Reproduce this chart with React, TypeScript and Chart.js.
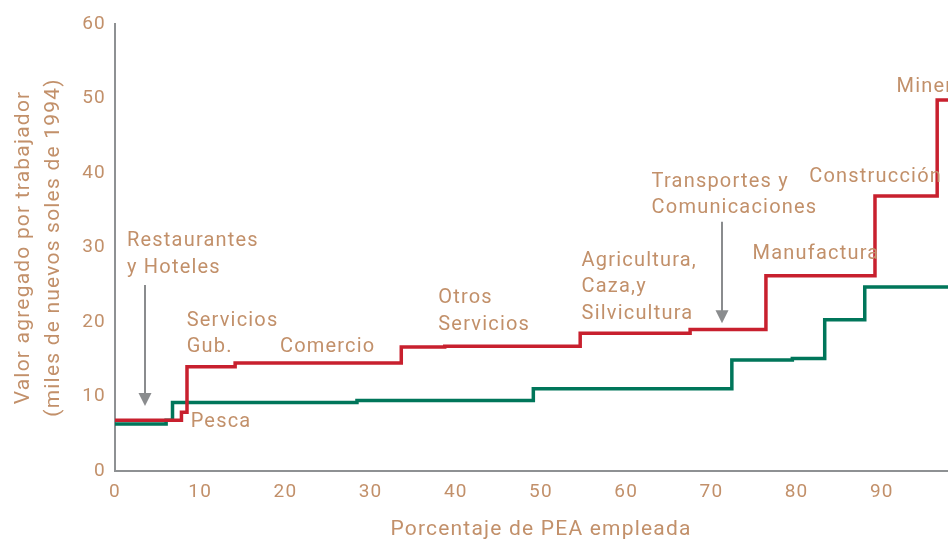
import React, { useEffect, useRef } from "react";
import { Chart, registerables } from "chart.js";

Chart.register(...registerables);

// ---- Data ----
// Cumulative share of employed PEA (%) where each step starts, and value added per worker
const redShare = [0, 7.8, 8.45, 14.1, 33.6, 38.7, 54.6, 67.5, 76.4, 89.2, 96.5, 100];
const redValue = [6.8, 7.9, 14.0, 14.5, 16.65, 16.75, 18.5, 19.0, 26.2, 36.9, 49.8, 49.8];
const greenShare = [0, 6.0, 6.75, 28.4, 49.1, 72.4, 79.5, 83.3, 88.0, 100];
const greenValue = [6.3, 6.8, 9.2, 9.45, 11.05, 14.9, 15.1, 20.3, 24.7, 24.7];

const yTitle = ["Valor agregado por trabajador", "(miles de nuevos soles de 1994)"];
const xTitle = "Porcentaje de PEA empleada";

// Sector annotations, anchored in data units (x = % PEA, y = value)
const sectorLabels = [
  { lines: ["Restaurantes", "y Hoteles"], x: 1.41, y: 31.1 },
  { lines: ["Pesca"], x: 8.88, y: 6.75 },
  { lines: ["Servicios", "Gub."], x: 8.41, y: 20.4 },
  { lines: ["Comercio"], x: 19.36, y: 16.9 },
  { lines: ["Otros", "Servicios"], x: 37.94, y: 23.4 },
  { lines: ["Agricultura,", "Caza,y", "Silvicultura"], x: 54.76, y: 28.42 },
  { lines: ["Transportes y", "Comunicaciones"], x: 62.98, y: 39.06 },
  { lines: ["Manufactura"], x: 74.83, y: 29.3 },
  { lines: ["Construcción"], x: 81.48, y: 39.73 },
  { lines: ["Minería"], x: 91.73, y: 51.81 },
];
const arrowMarks = [
  { x: 3.52, from: 24.97, to: 8.72 },
  { x: 71.26, from: 33.46, to: 19.83 },
];

// ---- Styles ----
const RED = "#c8202e";
const GREEN = "#00765a";
const TAN = "#c2906a";
const AXIS = "#8e9193";
const ARROW = "#8a8c8e";
const FONT = "Roboto, sans-serif";
const SPACING = "1.2px";

const spacingPlugin = {
  id: "letterSpacing",
  beforeUpdate(chart: any) {
    chart.ctx.letterSpacing = SPACING;
  },
  beforeDraw(chart: any) {
    chart.ctx.letterSpacing = SPACING;
  },
};

const notesPlugin = {
  id: "sectorNotes",
  afterDatasetsDraw(chart: any) {
    const { ctx, scales } = chart;
    const xs = scales.x;
    const ys = scales.y;
    ctx.save();
    ctx.letterSpacing = SPACING;
    ctx.font = `20px ${FONT}`;
    ctx.fillStyle = TAN;
    ctx.textAlign = "left";
    ctx.textBaseline = "middle";
    for (const l of sectorLabels) {
      const px = xs.getPixelForValue(l.x);
      const py = ys.getPixelForValue(l.y) + 1.5;
      l.lines.forEach((t, i) => ctx.fillText(t, px, py + i * 26.7));
    }
    ctx.strokeStyle = ARROW;
    ctx.fillStyle = ARROW;
    ctx.lineWidth = 2;
    for (const a of arrowMarks) {
      const px = Math.round(xs.getPixelForValue(a.x));
      const y1 = ys.getPixelForValue(a.from);
      const y2 = ys.getPixelForValue(a.to);
      ctx.beginPath();
      ctx.moveTo(px, y1);
      ctx.lineTo(px, y2 - 12);
      ctx.stroke();
      ctx.beginPath();
      ctx.moveTo(px - 6.5, y2 - 13);
      ctx.lineTo(px + 6.5, y2 - 13);
      ctx.lineTo(px, y2);
      ctx.closePath();
      ctx.fill();
    }
    ctx.restore();
  },
};

export default function App() {
  const ref = useRef<HTMLCanvasElement | null>(null);

  useEffect(() => {
    if (!ref.current) return;
    const toPoints = (xs: number[], ys: number[]) => xs.map((x, i) => ({ x, y: ys[i] }));
    const chart = new Chart(ref.current, {
      type: "line",
      data: {
        datasets: [
          {
            label: "red",
            data: toPoints(redShare, redValue),
            borderColor: RED,
            borderWidth: 3.5,
            stepped: "before",
            pointRadius: 0,
            fill: false,
            borderJoinStyle: "miter",
            borderCapStyle: "butt",
          },
          {
            label: "green",
            data: toPoints(greenShare, greenValue),
            borderColor: GREEN,
            borderWidth: 3.5,
            stepped: "before",
            pointRadius: 0,
            fill: false,
            borderJoinStyle: "miter",
            borderCapStyle: "butt",
          },
        ],
      },
      options: {
        animation: false,
        responsive: false,
        layout: { padding: { left: 0, right: 43, top: 24, bottom: 0 } },
        plugins: {
          legend: { display: false },
          tooltip: { enabled: false },
        },
        scales: {
          x: {
            type: "linear",
            min: 0,
            max: 100,
            grid: { display: false, drawTicks: false },
            border: { display: true, color: AXIS, width: 2 },
            ticks: {
              stepSize: 10,
              padding: 10,
              color: TAN,
              font: { family: FONT, size: 19 },
              maxRotation: 0,
            },
            title: {
              display: true,
              text: xTitle,
              color: TAN,
              font: { family: FONT, size: 21, lineHeight: "22px" },
              padding: { top: 0, bottom: 0 },
            },
            afterFit: (s: any) => {
              s.height = 70;
            },
          },
          y: {
            type: "linear",
            min: 0,
            max: 60,
            grid: { display: false, drawTicks: false },
            border: { display: true, color: AXIS, width: 2 },
            ticks: {
              stepSize: 10,
              padding: 9,
              color: TAN,
              font: { family: FONT, size: 19 },
            },
            title: {
              display: true,
              text: yTitle,
              color: TAN,
              font: { family: FONT, size: 21, lineHeight: "30px" },
              padding: { top: 9, bottom: 0 },
            },
            afterFit: (s: any) => {
              s.width = 115;
            },
          },
        },
      },
      plugins: [spacingPlugin, notesPlugin],
    } as any);
    return () => chart.destroy();
  }, []);

  return (
    <div
      style={{
        position: "fixed",
        left: 0,
        top: 0,
        width: 948,
        height: 541,
        overflow: "hidden",
        background: "#ffffff",
      }}
    >
      <canvas ref={ref} width={1010} height={541} style={{ display: "block" }} />
    </div>
  );
}
